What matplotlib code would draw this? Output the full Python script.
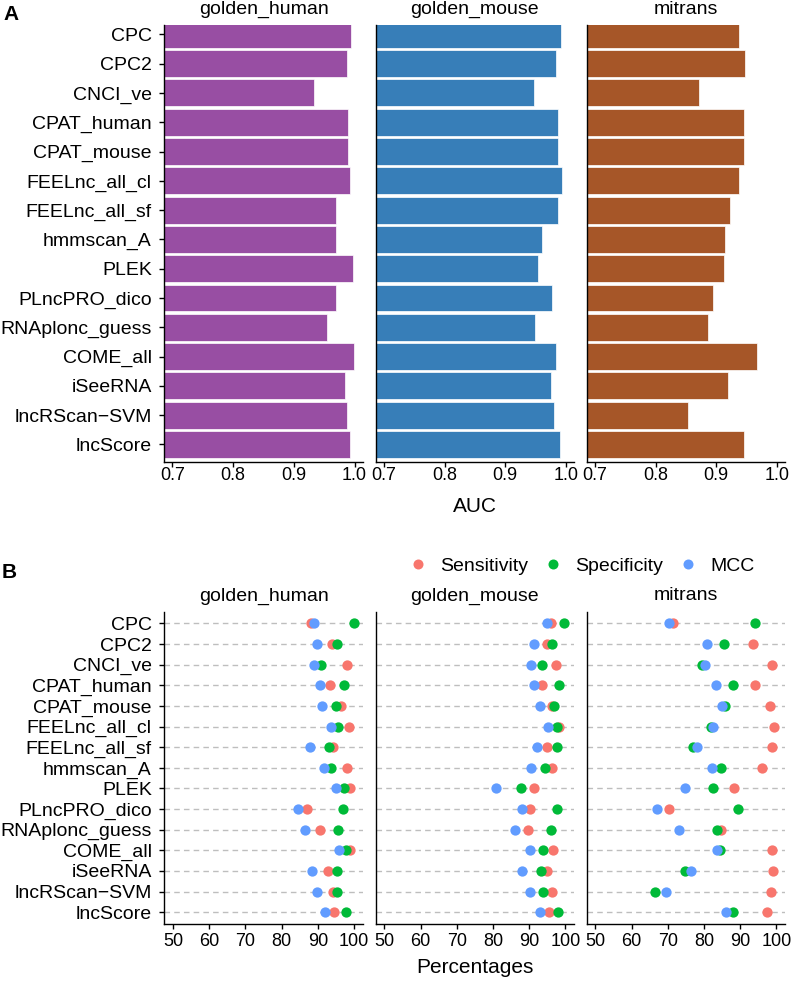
import matplotlib
matplotlib.use('Agg')
import matplotlib.pyplot as plt
from matplotlib.lines import Line2D
import numpy as np

plt.rcParams['font.family'] = ['Liberation Sans', 'DejaVu Sans']

# tools (top to bottom)
methods = ['CPC', 'CPC2', 'CNCI_ve', 'CPAT_human', 'CPAT_mouse', 'FEELnc_all_cl',
           'FEELnc_all_sf', 'hmmscan_A', 'PLEK', 'PLncPRO_dico', 'RNAplonc_guess',
           'COME_all', 'iSeeRNA', 'lncRScan\u2212SVM', 'lncScore']
datasets = ['golden_human', 'golden_mouse', 'mitrans']

# AUC values (panel A)
auc_human = [0.994, 0.987, 0.933, 0.989, 0.989, 0.992, 0.970, 0.970, 0.997, 0.970,
             0.955, 0.999, 0.984, 0.988, 0.992]
auc_mouse = [0.992, 0.984, 0.947, 0.987, 0.987, 0.994, 0.987, 0.961, 0.954, 0.977,
             0.949, 0.984, 0.976, 0.981, 0.990]
auc_mitrans = [0.938, 0.948, 0.871, 0.945, 0.945, 0.937, 0.922, 0.915, 0.912, 0.895,
               0.887, 0.967, 0.920, 0.853, 0.945]

# percentages (panel B)
sens_human = [88.2, 93.9, 98.2, 93.5, 96.3, 98.6, 94.2, 98.2, 98.8, 86.9, 90.5, 99.0, 92.8, 94.2, 94.5]
spec_human = [100.0, 95.3, 90.9, 97.2, 95.1, 95.6, 93.0, 93.7, 97.2, 96.9, 95.6, 97.9, 95.2, 95.3, 97.8]
mcc_human = [89.0, 89.7, 88.9, 90.6, 91.1, 93.7, 87.9, 91.6, 95.1, 84.5, 86.4, 95.8, 88.4, 89.7, 91.9]

sens_mouse = [95.9, 94.9, 97.3, 93.6, 96.3, 98.3, 94.8, 96.3, 91.3, 90.1, 89.7, 96.5, 94.8, 96.3, 95.6]
spec_mouse = [99.6, 96.3, 93.5, 98.2, 96.8, 97.8, 97.7, 94.3, 87.7, 97.6, 95.9, 93.7, 93.2, 93.9, 98.0]
mcc_mouse = [94.8, 91.3, 90.6, 91.3, 92.9, 95.3, 92.2, 90.5, 80.8, 87.9, 86.1, 90.3, 88.1, 90.1, 93.1]

sens_mitrans = [71.5, 93.4, 98.9, 94.2, 98.1, 99.3, 98.9, 96.1, 88.2, 70.2, 84.7, 98.7, 99.1, 98.4, 97.3]
spec_mitrans = [94.2, 85.5, 79.5, 88.0, 85.9, 81.9, 76.9, 84.8, 82.5, 89.5, 83.6, 84.3, 74.8, 66.6, 88.0]
mcc_mitrans = [70.4, 80.7, 80.2, 83.4, 85.1, 82.4, 78.2, 82.3, 74.8, 67.1, 73.2, 83.5, 76.4, 69.6, 86.0]

auc_all = [auc_human, auc_mouse, auc_mitrans]
sens_all = [sens_human, sens_mouse, sens_mitrans]
spec_all = [spec_human, spec_mouse, spec_mitrans]
mcc_all = [mcc_human, mcc_mouse, mcc_mitrans]

bar_colors = ['#984EA3', '#377EB8', '#A65628']
c_sens, c_spec, c_mcc = '#F8766D', '#00BA38', '#619CFF'

W, H = 794, 981
fig = plt.figure(figsize=(W / 100, H / 100), dpi=100)

lefts = [164.3, 375.7, 586.7]
pw = 198.4
y = np.arange(len(methods))


def style(ax, first, xpad):
    for s in ['top', 'right']:
        ax.spines[s].set_visible(False)
    for s in ['left', 'bottom']:
        ax.spines[s].set_linewidth(1.0)
        ax.spines[s].set_color('black')
    ax.tick_params(axis='both', direction='out', length=3.5, width=1.0, colors='black')
    ax.tick_params(axis='x', labelsize=13, pad=xpad)
    ax.tick_params(axis='y', labelsize=14, pad=5.5)
    ax.set_yticks(y)
    if first:
        ax.set_yticklabels(methods)
    else:
        ax.set_yticklabels([])
        ax.tick_params(axis='y', length=0)


def fy(py):
    return 1 - py / H


# panel A
for i, name in enumerate(datasets):
    ax = fig.add_axes([lefts[i] / W, fy(462), pw / W, 437 / H])
    ax.barh(y, auc_all[i], height=0.92, color=bar_colors[i],
            edgecolor='white', linewidth=0.5)
    ax.set_xlim(0.6865, 1.0135)
    ax.set_ylim(14.6, -0.32)
    ax.set_xticks([0.7, 0.8, 0.9, 1.0])
    ax.set_xticklabels(['0.7', '0.8', '0.9', '1.0'])
    style(ax, i == 0, 0.0)
    fig.text((lefts[i] + pw / 2) / W, fy(14), name, fontsize=14, ha='center', va='baseline')
fig.text((lefts[1] + pw / 2) / W, fy(512), 'AUC', fontsize=15, ha='center', va='baseline')

# panel B
for i, name in enumerate(datasets):
    ax = fig.add_axes([lefts[i] / W, fy(924), pw / W, 312.3 / H])
    for yy in y:
        ax.axhline(yy, color='#BEBEBE', lw=1.0, ls=(0, (4, 3)), zorder=0)
    ax.scatter(sens_all[i], y, s=55, color=c_sens, zorder=3, linewidths=0)
    ax.scatter(spec_all[i], y, s=55, color=c_spec, zorder=4, linewidths=0)
    ax.scatter(mcc_all[i], y, s=55, color=c_mcc, zorder=5, linewidths=0)
    ax.set_xlim(47.6, 102.4)
    ax.set_ylim(14.57, -0.57)
    ax.set_xticks([50, 60, 70, 80, 90, 100])
    style(ax, i == 0, 3.0)
    fig.text((lefts[i] + pw / 2) / W, fy(600.5), name, fontsize=14, ha='center', va='baseline')
fig.text((lefts[1] + pw / 2) / W, fy(973), 'Percentages', fontsize=15, ha='center', va='baseline')

handles = [Line2D([], [], ls='none', marker='o', markersize=7.2, color=c, markeredgewidth=0)
           for c in [c_sens, c_spec, c_mcc]]
fig.legend(handles, ['Sensitivity', 'Specificity', 'MCC'], loc='center left',
           bbox_to_anchor=(408.3 / W, fy(566)), ncol=3, frameon=False,
           fontsize=14, handlelength=1.0, handletextpad=0.63, columnspacing=0.79,
           borderpad=0, borderaxespad=0)

fig.text(3 / W, fy(14.5), 'A', fontsize=15, fontweight='bold', va='center', ha='left')
fig.text(2 / W, fy(572), 'B', fontsize=15, fontweight='bold', va='center', ha='left')

fig.savefig('out.png', dpi=100)
